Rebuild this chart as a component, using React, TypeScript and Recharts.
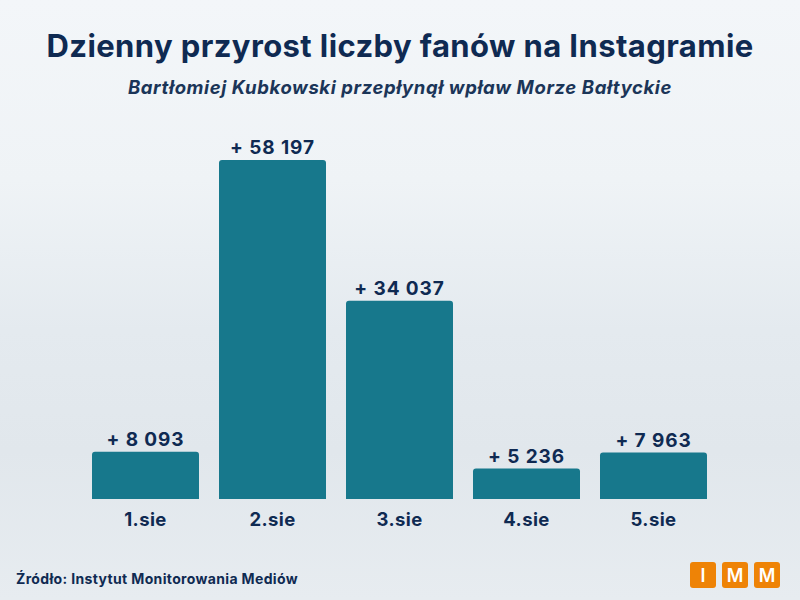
import React from 'react';
import { BarChart, Bar, XAxis, YAxis, LabelList } from 'recharts';

const categories = ['1.sie', '2.sie', '3.sie', '4.sie', '5.sie'];
const fanGrowth = [8093, 58197, 34037, 5236, 7963];

const data = categories.map((day, i) => ({ day, value: fanGrowth[i] }));

const NAVY = '#0f2a52';
const BAR = '#17788c';
const FONT = 'Inter, "Open Sans", sans-serif';

const fmt = (v: number) => '+ ' + String(v).replace(/\B(?=(\d{3})+(?!\d))/g, ' ');

export default function App() {
  React.useEffect(() => {
    document.body.style.margin = '0';
  }, []);
  return (
    <div
      style={{
        position: 'fixed',
        left: 0,
        top: 0,
        width: 800,
        height: 600,
        overflow: 'hidden',
        fontFamily: FONT,
        background:
          'linear-gradient(180deg, #f3f6f9 0%, #eff3f6 30%, #e4eaef 55%, #e1e7ec 75%, #e7ecf0 100%)',
      }}
    >
      <div
        style={{
          position: 'absolute',
          top: 27,
          left: 0,
          width: 800,
          textAlign: 'center',
          fontSize: 31,
          fontWeight: 700,
          color: NAVY,
          letterSpacing: 0.4,
        }}
      >
        Dzienny przyrost liczby fanów na Instagramie
      </div>
      <div
        style={{
          position: 'absolute',
          top: 76,
          left: 0,
          width: 800,
          textAlign: 'center',
          fontSize: 18.5,
          fontWeight: 700,
          fontStyle: 'italic',
          letterSpacing: 0.6,
          color: '#1b3558',
        }}
      >
        Bartłomiej Kubkowski przepłynął wpław Morze Bałtyckie
      </div>
      <div style={{ position: 'absolute', left: 0, top: 0 }}>
        <BarChart
          width={800}
          height={600}
          data={data}
          margin={{ top: 160, right: 83, bottom: 71, left: 82 }}
        >
          <XAxis
            dataKey="day"
            height={30}
            axisLine={false}
            tickLine={false}
            interval={0}
            tick={{ fill: NAVY, fontSize: 18.5, fontWeight: 700, fontFamily: FONT, letterSpacing: 0.4 }}
            dy={6}
          />
          <YAxis hide width={0} domain={[0, 58197]} />
          <Bar
            dataKey="value"
            fill={BAR}
            barSize={107}
            radius={[3, 3, 0, 0]}
            isAnimationActive={false}
          >
            <LabelList
              dataKey="value"
              position="top"
              offset={6}
              formatter={(v: number) => fmt(v)}
              style={{ fill: NAVY, fontSize: 19, fontWeight: 700, fontFamily: FONT, letterSpacing: 0.9 }}
            />
          </Bar>
        </BarChart>
      </div>
      <div
        style={{
          position: 'absolute',
          left: 16,
          top: 570,
          fontSize: 14,
          fontWeight: 700,
          letterSpacing: 0.35,
          color: NAVY,
        }}
      >
        Źródło: Instytut Monitorowania Mediów
      </div>
      <div style={{ position: 'absolute', left: 690, top: 562, display: 'flex', gap: 6 }}>
        {['I', 'M', 'M'].map((ch, i) => (
          <div
            key={i}
            style={{
              width: 26,
              height: 26,
              borderRadius: 3,
              background: '#ee8306',
              color: '#fff',
              fontSize: 18,
              fontWeight: 600,
              display: 'flex',
              alignItems: 'center',
              justifyContent: 'center',
            }}
          >
            {ch}
          </div>
        ))}
      </div>
    </div>
  );
}
